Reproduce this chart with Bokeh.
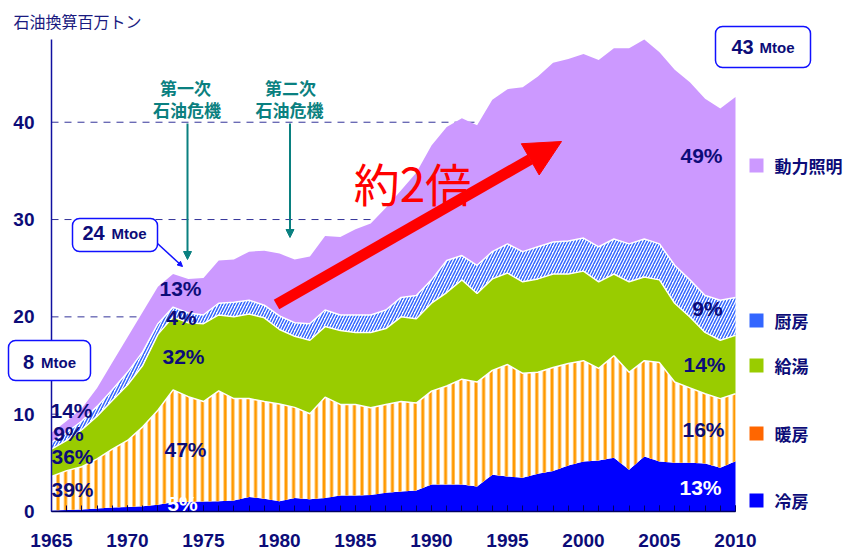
import numpy as np
from bokeh.plotting import figure
from bokeh.models import (Range1d, FixedTicker, Label, Arrow, NormalHead,
                          BoxAnnotation, ColumnDataSource)
from bokeh.embed import file_html
from bokeh.resources import INLINE

# ---------------- data (Mtoe) ----------------
years = list(range(1965, 2011))
cooling = [0.10, 0.15, 0.20, 0.30, 0.40, 0.45, 0.55, 0.70, 0.95, 1.00,
           1.03, 1.05, 1.13, 1.50, 1.30, 1.06, 1.40, 1.27, 1.40, 1.65,
           1.65, 1.70, 1.92, 2.05, 2.16, 2.78, 2.78, 2.78, 2.57, 3.77,
           3.60, 3.46, 3.87, 4.15, 4.73, 5.14, 5.24, 5.52, 4.29, 5.66,
           5.14, 5.00, 5.00, 4.94, 4.49, 5.17]
heating = [3.50, 4.05, 4.40, 5.10, 6.00, 6.85, 8.15, 9.70, 11.55, 10.80,
           10.27, 11.35, 10.47, 10.10, 10.00, 9.99, 9.30, 8.78, 10.35, 9.35,
           9.35, 8.96, 9.08, 9.25, 8.98, 9.59, 10.12, 10.82, 10.73, 10.73,
           11.50, 10.74, 10.43, 10.65, 10.47, 10.36, 9.46, 10.48, 10.01, 9.84,
           10.16, 8.30, 7.70, 7.16, 7.11, 6.93]
hot_water = [2.80, 3.10, 3.80, 4.40, 5.00, 5.70, 6.30, 7.80, 7.50, 7.60,
             8.00, 7.80, 8.40, 8.70, 8.60, 7.65, 7.30, 7.55, 7.25, 7.60,
             7.40, 7.74, 7.80, 8.70, 8.66, 9.03, 9.60, 10.20, 9.10, 9.40,
             9.40, 9.40, 9.60, 9.60, 9.20, 9.20, 8.90, 8.40, 9.30, 8.60,
             8.50, 8.10, 7.30, 6.30, 6.00, 6.00]
kitchen = [0.70, 0.80, 0.90, 1.00, 1.10, 1.30, 1.40, 1.10, 1.00, 1.00,
           0.90, 1.20, 1.50, 1.40, 1.30, 1.40, 1.40, 1.70, 1.70, 1.60,
           1.80, 1.80, 1.90, 2.00, 2.40, 2.40, 3.30, 2.50, 2.90, 2.80,
           3.00, 3.10, 3.30, 3.30, 3.40, 3.40, 3.60, 3.60, 3.90, 3.90,
           3.70, 3.90, 3.80, 3.80, 4.10, 3.90]
power_lighting = [1.00, 1.20, 1.30, 1.90, 2.80, 3.60, 4.10, 3.80, 3.40, 3.50,
                  3.80, 4.40, 4.40, 5.00, 5.60, 6.40, 6.50, 6.90, 7.60, 8.00,
                  8.80, 9.40, 10.50, 11.00, 12.60, 13.80, 13.70, 14.10, 14.40, 15.60,
                  15.90, 16.90, 17.50, 18.40, 18.70, 18.90, 19.20, 19.60, 20.10, 20.50,
                  19.70, 20.10, 20.30, 20.20, 19.70, 20.60]

series_names = ["冷房", "暖房", "給湯", "厨房", "動力照明"]
x_tick_labels = [1965, 1970, 1975, 1980, 1985, 1990, 1995, 2000, 2005, 2010]
y_tick_labels = [0, 10, 20, 30, 40]
grid_values = [10, 20, 30, 40]

# ---------------- figure (frame covers the whole canvas) ----------------
W, H = 851, 551
X0, X1 = 1965, 2010          # data extent of the axes
Y0, Y1 = 0, 48.5
PX_L, PX_R = 51, 735         # pixel of 1965 / 2010
PY_B, PY_T = 511, 39         # pixel of 0 / 48.5
SX = (PX_R - PX_L) / (X1 - X0)
SY = (PY_B - PY_T) / (Y1 - Y0)

def dx(px):
    return X0 + (px - PX_L) / SX

def dy(py):
    return (PY_B - py) / SY

p = figure(width=W, height=H, title=None,
           x_range=Range1d(dx(0), dx(W)), y_range=Range1d(dy(H), dy(0)),
           min_border=0, min_border_left=0, min_border_right=0,
           min_border_top=0, min_border_bottom=0,
           output_backend="svg", toolbar_location=None)
p.outline_line_color = None
p.background_fill_color = "white"
p.border_fill_color = "white"
p.xgrid.visible = False
p.ygrid.visible = False

NAVY = "#0c0c78"

# axes placed at fixed data locations inside the frame
xa = p.xaxis[0]
xa.fixed_location = Y0
xa.bounds = (X0, X1)
xa.ticker = FixedTicker(ticks=x_tick_labels, minor_ticks=years)
xa.major_tick_in = 6
xa.major_tick_out = 0
xa.minor_tick_in = 6
xa.minor_tick_out = 0
xa.axis_line_color = "#000060"
xa.major_tick_line_color = "#000060"
xa.minor_tick_line_color = "#000060"
xa.axis_line_width = 1.5
xa.major_label_standoff = 22
xa.major_label_text_font = "Liberation Sans"
xa.major_label_text_font_style = "bold"
xa.major_label_text_font_size = "19px"
xa.major_label_text_color = NAVY

ya = p.yaxis[0]
ya.fixed_location = X0
ya.bounds = (Y0, Y1)
ya.ticker = FixedTicker(ticks=y_tick_labels, minor_ticks=[])
ya.major_tick_in = 0
ya.major_tick_out = 0
ya.axis_line_color = "#1010a0"
ya.axis_line_width = 1.5
ya.major_label_standoff = 17
ya.major_label_text_font = "Liberation Sans"
ya.major_label_text_font_style = "bold"
ya.major_label_text_font_size = "19px"
ya.major_label_text_color = NAVY

# dashed horizontal grid lines (under the areas)
p.segment(x0=[X0] * len(grid_values), x1=[X1] * len(grid_values),
          y0=grid_values, y1=grid_values,
          line_color="#333399", line_dash="7 6", line_width=1)

# ---------------- stacked areas ----------------
c1 = np.array(cooling)
c2 = c1 + np.array(heating)
c3 = c2 + np.array(hot_water)
c4 = c3 + np.array(kitchen)
c5 = c4 + np.array(power_lighting)
src = ColumnDataSource(dict(x=years, z=np.zeros(len(years)), c1=c1, c2=c2,
                            c3=c3, c4=c4, c5=c5))

p.varea(x="x", y1="z", y2="c1", source=src, fill_color="#0000ff")
p.varea(x="x", y1="c1", y2="c2", source=src, fill_color="white",
        hatch_pattern="vertical_line", hatch_color="#ff9900",
        hatch_scale=7.6, hatch_weight=3)
p.varea(x="x", y1="c2", y2="c3", source=src, fill_color="#99cc00")
p.varea(x="x", y1="c3", y2="c4", source=src, fill_color="white",
        hatch_pattern="right_diagonal_line", hatch_color="#3366ff",
        hatch_scale=6, hatch_weight=1.5)
p.varea(x="x", y1="c4", y2="c5", source=src, fill_color="#cc99ff")
for col in ["c2", "c3", "c4"]:
    p.line(x="x", y=col, source=src, line_color="white", line_width=1.5)

# ---------------- annotations ----------------
def lab(text, px, py, size, color=NAVY, bold=True, font="Liberation Sans",
        align="center"):
    p.add_layout(Label(x=dx(px), y=dy(py), text=text, text_align=align,
                       text_baseline="middle", text_font=font,
                       text_font_size=size, text_color=color,
                       text_font_style="bold" if bold else "normal"))

# y-axis title
lab("石油換算百万トン", 13, 20, "16px", color="#1a1a80", bold=False,
    font="Noto Sans CJK JP", align="left")

# percentages
for t, px, py, col in [("14%", 71, 410, NAVY), ("9%", 68, 433, NAVY),
                       ("36%", 72, 456, NAVY), ("39%", 72, 489, NAVY),
                       ("13%", 180, 288, NAVY), ("4%", 181, 317, NAVY),
                       ("32%", 183, 356, NAVY), ("47%", 185, 449, NAVY),
                       ("5%", 182, 503, "white"),
                       ("49%", 701, 155, NAVY), ("9%", 707, 308, NAVY),
                       ("14%", 704, 364, NAVY), ("16%", 703, 429, NAVY),
                       ("13%", 700, 487, "white")]:
    lab(t, px, py, "21px", color=col)

# oil crisis labels and arrows
TEAL = "#0a8080"
lab("第一次", 185, 87, "17px", color=TEAL, font="Noto Sans CJK JP")
lab("石油危機", 186.5, 109, "17px", color=TEAL, font="Noto Sans CJK JP")
lab("第二次", 290, 87, "17px", color=TEAL, font="Noto Sans CJK JP")
lab("石油危機", 289, 109, "17px", color=TEAL, font="Noto Sans CJK JP")
for ax, yend in [(187, 259), (289.5, 237)]:
    p.add_layout(Arrow(x_start=dx(ax), y_start=dy(123), x_end=dx(ax), y_end=dy(yend),
                       line_color=TEAL, line_width=2,
                       end=NormalHead(size=8, fill_color=TEAL, line_color=TEAL)))

# big red arrow and text
p.add_layout(Arrow(x_start=dx(276), y_start=dy(304), x_end=dx(561), y_end=dy(141),
                   line_color="#ff0000", line_width=11,
                   end=NormalHead(size=36, fill_color="#ff0000", line_color="#ff0000")))
lab("約2倍", 412, 181, "46px", color="#ff0000", bold=False, font="Noto Sans CJK JP")

# callout boxes
BOXC = "#1010ff"
for l, r, t, b in [(8, 90, 340, 380), (72, 157, 218, 251), (715, 810, 26, 67)]:
    p.add_layout(BoxAnnotation(left=dx(l), right=dx(r), top=dy(t), bottom=dy(b),
                               fill_color="white", fill_alpha=1.0,
                               line_color=BOXC, line_alpha=1.0, line_width=1.5,
                               border_radius=7))
p.add_layout(Arrow(x_start=dx(157), y_start=dy(243), x_end=dx(182), y_end=dy(266),
                   line_color=BOXC, line_width=1.5,
                   end=NormalHead(size=5, fill_color=BOXC, line_color=BOXC)))
lab("8", 28, 361, "20px")
lab("Mtoe", 58, 362, "15px")
lab("24", 93, 232, "20px")
lab("Mtoe", 128.5, 233, "15px")
lab("43", 742, 46, "20px")
lab("Mtoe", 776.5, 47, "15px")

# legend (squares + names)
leg_colors = ["#0000ff", "#ff6600", "#99cc00", "#3366ff", "#cc99ff"]
leg_y = [500, 433, 365, 320, 165]
for name, col, ly in zip(series_names, leg_colors, leg_y):
    p.add_layout(BoxAnnotation(left=dx(749), right=dx(763), top=dy(ly - 7),
                               bottom=dy(ly + 7), fill_color=col, fill_alpha=1.0,
                               line_color=None))
    lab(name, 774, ly, "17px", font="Noto Sans CJK JP", align="left")

open("out.html", "w").write(file_html(p, INLINE))
